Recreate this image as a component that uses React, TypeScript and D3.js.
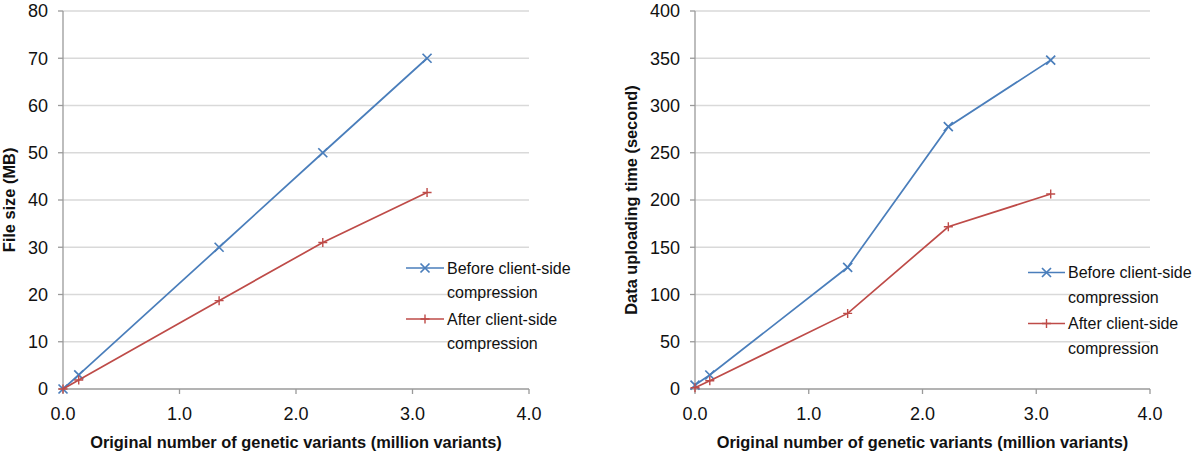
import React from "react";
import * as d3 from "d3";

const xValues = [0.0, 0.135, 1.34, 2.23, 3.125];
const sizeBefore = [0, 3, 30, 50, 70];
const sizeAfter = [0, 1.9, 18.7, 31, 41.6];
const xValuesR = [0.0, 0.13, 1.342, 2.227, 3.127];
const timeBefore = [4.2, 14.8, 128.8, 277.6, 348];
const timeAfter = [1.4, 8.8, 80, 171.7, 206.3];
const xTicks = [0, 1, 2, 3, 4];
const leftYTicks = [0, 10, 20, 30, 40, 50, 60, 70, 80];
const rightYTicks = [0, 50, 100, 150, 200, 250, 300, 350, 400];
const legendLabels = [["Before client-side", "compression"], ["After client-side", "compression"]];
const xTitle = "Original number of genetic variants (million variants)";

const BLUE = "#4a7ebb";
const RED = "#be4b48";
const GRID = "#d9d9d9";
const AXIS = "#9a9a9a";
const FONT = "'Liberation Sans', Arial, Helvetica, sans-serif";

type PanelProps = {
  x0: number; x1: number; yTop: number; yBot: number;
  yMax: number; yTicks: number[]; xs: number[]; before: number[]; after: number[];
  yTitle: string; yTitleX: number;
  legendX: number; legendY: number; legendLen: number;
};

function Marker({ type, x, y, color }: { type: string; x: number; y: number; color: string }) {
  const s = 4.5;
  if (type === "x") {
    return <path d={`M${x - s},${y - s}L${x + s},${y + s}M${x - s},${y + s}L${x + s},${y - s}`} stroke={color} strokeWidth={1.7} />;
  }
  return <path d={`M${x - s},${y}L${x + s},${y}M${x},${y - s}L${x},${y + s}`} stroke={color} strokeWidth={1.4} />;
}

function Panel(p: PanelProps) {
  const xs = d3.scaleLinear().domain([0, 4]).range([p.x0, p.x1]);
  const ys = d3.scaleLinear().domain([0, p.yMax]).range([p.yBot, p.yTop]);
  const line = d3.line<[number, number]>().x((d) => xs(d[0])).y((d) => ys(d[1]));
  const series = [
    { vals: p.before, color: BLUE, m: "x" },
    { vals: p.after, color: RED, m: "+" },
  ];
  return (
    <g>
      {p.yTicks.map((t) => (
        <g key={"g" + t}>
          {t > 0 && <line x1={p.x0} x2={p.x1} y1={ys(t)} y2={ys(t)} stroke={GRID} strokeWidth={1.3} />}
          <line x1={p.x0 - 5} x2={p.x0} y1={ys(t)} y2={ys(t)} stroke={AXIS} strokeWidth={1.3} />
          <text x={p.x0 - 15} y={ys(t)} dy="0.36em" textAnchor="end" fontSize={18} fill="#111" fontFamily={FONT}>{t}</text>
        </g>
      ))}
      <line x1={p.x0} x2={p.x0} y1={p.yTop} y2={p.yBot} stroke={AXIS} strokeWidth={1.3} />
      <line x1={p.x0} x2={p.x1} y1={p.yBot} y2={p.yBot} stroke={AXIS} strokeWidth={1.3} />
      {xTicks.map((t) => (
        <g key={"x" + t}>
          <line x1={xs(t)} x2={xs(t)} y1={p.yBot} y2={p.yBot + 5} stroke={AXIS} strokeWidth={1.3} />
          <text x={xs(t)} y={p.yBot + 30.5} textAnchor="middle" fontSize={18} fill="#111" fontFamily={FONT}>{t.toFixed(1)}</text>
        </g>
      ))}
      {series.map((s, i) => (
        <g key={"s" + i}>
          <path d={line(p.xs.map((x, j) => [x, s.vals[j]] as [number, number])) || ""} fill="none" stroke={s.color} strokeWidth={1.7} />
          {p.xs.map((x, j) => <Marker key={j} type={s.m} x={xs(x)} y={ys(s.vals[j])} color={s.color} />)}
        </g>
      ))}
      <text x={(p.x0 + p.x1) / 2} y={448} textAnchor="middle" fontSize={16.4} fontWeight="bold" fill="#111" fontFamily={FONT}>{xTitle}</text>
      <text transform={`translate(${p.yTitleX},${(p.yTop + p.yBot) / 2}) rotate(-90)`} textAnchor="middle" dy="0.36em" fontSize={16.4} fontWeight="bold" fill="#111" fontFamily={FONT}>{p.yTitle}</text>
      {legendLabels.map((lab, i) => {
        const ly = p.legendY + i * 51;
        const s = series[i];
        return (
          <g key={"l" + i}>
            <line x1={p.legendX} x2={p.legendX + p.legendLen} y1={ly} y2={ly} stroke={s.color} strokeWidth={1.7} />
            <Marker type={s.m} x={p.legendX + p.legendLen / 2} y={ly} color={s.color} />
            <text x={p.legendX + p.legendLen + 3} y={ly} dy="0.36em" fontSize={16} fill="#111" fontFamily={FONT}>{lab[0]}</text>
            <text x={p.legendX + p.legendLen + 3} y={ly + 24.5} dy="0.36em" fontSize={16} fill="#111" fontFamily={FONT}>{lab[1]}</text>
          </g>
        );
      })}
    </g>
  );
}

export default function App() {
  return (
    <svg width={1200} height={452} style={{ position: "absolute", left: 0, top: 0, background: "#fff" }}>
      <rect width={1200} height={452} fill="#fff" />
      <Panel x0={63} x1={529} yTop={11} yBot={389} yMax={80} yTicks={leftYTicks} xs={xValues}
        before={sizeBefore} after={sizeAfter} yTitle="File size (MB)" yTitleX={9.5}
        legendX={406} legendY={268} legendLen={38} />
      <Panel x0={695} x1={1150} yTop={11} yBot={389} yMax={400} yTicks={rightYTicks} xs={xValuesR}
        before={timeBefore} after={timeAfter} yTitle="Data uploading time (second)" yTitleX={631.5}
        legendX={1028} legendY={272.5} legendLen={37} />
    </svg>
  );
}
